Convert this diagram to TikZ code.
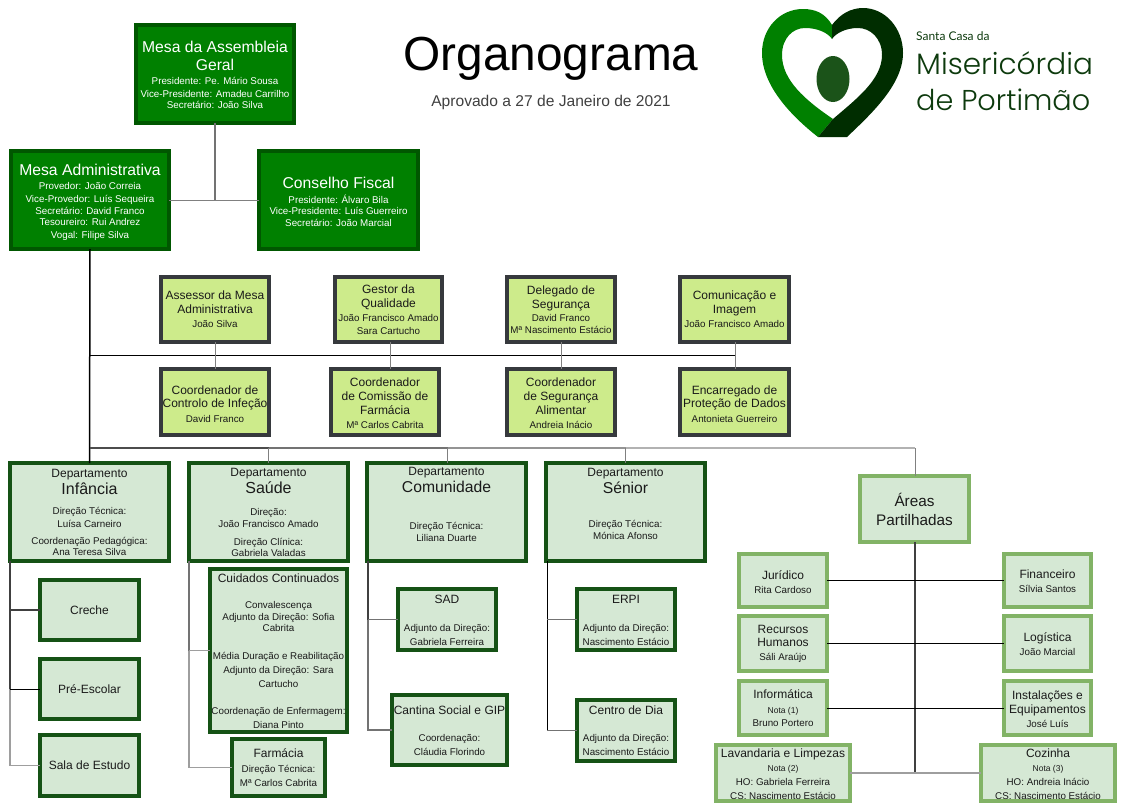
\documentclass[tikz,border=0pt]{standalone}
\usepackage{fontspec}
\setmainfont{Liberation Sans}
\newfontfamily\logofont{Poppins Light}
\newfontfamily\logosmall{Lato}
\definecolor{topfill}{HTML}{008000}
\definecolor{topline}{HTML}{005700}
\definecolor{limefill}{HTML}{CDEB8B}
\definecolor{limeline}{HTML}{36393D}
\definecolor{palefill}{HTML}{D5E8D4}
\definecolor{deptline}{HTML}{155215}
\definecolor{arealine}{HTML}{82B366}
\definecolor{heartdark}{HTML}{002D00}
\definecolor{seedgreen}{HTML}{1B5319}
\definecolor{logotext}{HTML}{0D3A0D}
\definecolor{ink}{HTML}{1A1A1A}
\newcommand\tln[2]{{\fontsize{#1}{0}\selectfont #2}}
\newcommand\labfont{\fontsize{10}{0}\selectfont\lineskiplimit=-1000pt\lineskip=0pt\relax}
\tikzset{
  cell/.style={draw,line width=4pt,inner sep=0pt,outer sep=0pt},
  topbox/.style={cell,fill=topfill,draw=topline},
  limebox/.style={cell,fill=limefill,draw=limeline},
  deptbox/.style={cell,fill=palefill,draw=deptline},
  areabox/.style={cell,fill=palefill,draw=arealine},
  lab/.style={align=center,inner sep=0pt,text=ink,font=\labfont},
  wlab/.style={lab,text=white},
  c1/.style={draw=black!55,line width=1.4pt},
  c2/.style={draw=black!50,line width=1pt},
  cblack/.style={draw=black,line width=1pt},
  cdark/.style={draw=black!75,line width=1.2pt},
  cpale/.style={draw=black!38,line width=1.3pt},
}
% name, x0, y0, x1, y1, box style, label style, dy, text
\newcommand\bx[9]{%
  \node[#6,minimum width={(#4-#2-4)*1pt},minimum height={(#5-#3-4)*1pt},
    label={[#7,name=#1-t,yshift={-(#8)*1pt}]center:{#9}}]
    (#1) at ({(#2+#4)/2},{(#3+#5)/2}) {};}
\begin{document}
\begin{tikzpicture}[x=1pt,y=-1pt]
\useasboundingbox (0,0) rectangle (1123,803);
% ---------- boxes
\bx{assembleia}{134}{23}{296}{125}{topbox}{wlab}{1}{\tln{15.7}{Mesa da Assembleia}\\[18pt]\tln{15.7}{Geral}\\[14pt]\tln{9.8}{Presidente: Pe. Mário Sousa}\\[12.5pt]\tln{9.8}{Vice-Presidente: Amadeu Carrilho}\\[11.5pt]\tln{9.8}{Secretário: João Silva}}
\bx{admin}{9}{149}{171}{251}{topbox}{wlab}{2.5}{\tln{15.7}{Mesa Administrativa}\\[14pt]\tln{9.8}{Provedor: João Correia}\\[12.5pt]\tln{9.8}{Vice-Provedor: Luís Sequeira}\\[12pt]\tln{9.8}{Secretário: David Franco}\\[11.5pt]\tln{9.8}{Tesoureiro: Rui Andrez}\\[12.5pt]\tln{9.8}{Vogal: Filipe Silva}}
\bx{fiscal}{257}{149}{420}{251}{topbox}{wlab}{1.5}{\tln{15.7}{Conselho Fiscal}\\[15pt]\tln{9.8}{Presidente: Álvaro Bila}\\[11.5pt]\tln{9.8}{Vice-Presidente: Luís Guerreiro}\\[11.5pt]\tln{9.8}{Secretário: João Marcial}}
\bx{assessor}{159}{275}{271}{344}{limebox}{lab}{0}{\tln{12}{Assessor da Mesa}\\[14pt]\tln{12}{Administrativa}\\[14pt]\tln{9.8}{João Silva}}
\bx{gestor}{333}{275}{444}{344}{limebox}{lab}{0}{\tln{12}{Gestor da}\\[14pt]\tln{12}{Qualidade}\\[14pt]\tln{9.8}{João Francisco Amado}\\[13.5pt]\tln{9.8}{Sara Cartucho}}
\bx{delegado}{505}{275}{617}{344}{limebox}{lab}{0}{\tln{12}{Delegado de}\\[14pt]\tln{12}{Segurança}\\[13pt]\tln{9.8}{David Franco}\\[12pt]\tln{9.8}{Mª Nascimento Estácio}}
\bx{comunicacao}{678}{275}{791}{344}{limebox}{lab}{0}{\tln{12}{Comunicação e}\\[14pt]\tln{12}{Imagem}\\[14pt]\tln{9.8}{João Francisco Amado}}
\bx{infecao}{159}{367}{271}{437}{limebox}{lab}{2}{\tln{12}{Coordenador de}\\[13.5pt]\tln{12}{Controlo de Infeção}\\[14.5pt]\tln{9.8}{David Franco}}
\bx{farmacia1}{329}{367}{441}{437}{limebox}{lab}{1}{\tln{12}{Coordenador}\\[14pt]\tln{12}{de Comissão de}\\[14.5pt]\tln{12}{Farmácia}\\[14pt]\tln{9.8}{Mª Carlos Cabrita}}
\bx{alimentar}{505}{367}{617}{437}{limebox}{lab}{1}{\tln{12}{Coordenador}\\[14pt]\tln{12}{de Segurança}\\[14.5pt]\tln{12}{Alimentar}\\[14pt]\tln{9.8}{Andreia Inácio}}
\bx{dados}{678}{367}{791}{437}{limebox}{lab}{2}{\tln{12}{Encarregado de}\\[13.5pt]\tln{12}{Proteção de Dados}\\[14.5pt]\tln{9.8}{Antonieta Guerreiro}}
\bx{infancia}{8}{461}{171}{563}{deptbox}{lab}{0.5}{\tln{12}{Departamento}\\[17pt]\tln{16}{Infância}\\[20.5pt]\tln{9.8}{Direção Técnica:}\\[12.5pt]\tln{9.8}{Luísa Carneiro}\\[17.5pt]\tln{9.8}{Coordenação Pedagógica:}\\[11pt]\tln{9.8}{Ana Teresa Silva}}
\bx{saude}{187}{461}{350}{563}{deptbox}{lab}{0}{\tln{12}{Departamento}\\[17.5pt]\tln{16}{Saúde}\\[22pt]\tln{9.8}{Direção:}\\[12pt]\tln{9.8}{João Francisco Amado}\\[17.5pt]\tln{9.8}{Direção Clínica:}\\[11pt]\tln{9.8}{Gabriela Valadas}}
\bx{comunidade}{365}{461}{528}{563}{deptbox}{lab}{-7.7}{\tln{12}{Departamento}\\[16.5pt]\tln{15.7}{Comunidade}\\[37.5pt]\tln{9.8}{Direção Técnica:}\\[11.5pt]\tln{9.8}{Liliana Duarte}}
\bx{senior}{544}{461}{707}{563}{deptbox}{lab}{-8.3}{\tln{12}{Departamento}\\[16.5pt]\tln{15.7}{Sénior}\\[34.5pt]\tln{9.8}{Direção Técnica:}\\[11.5pt]\tln{9.8}{Mónica Afonso}}
\bx{creche}{38}{578}{141}{642}{deptbox}{lab}{0}{\tln{12}{Creche}}
\bx{preescolar}{38}{657}{141}{721}{deptbox}{lab}{0}{\tln{12}{Pré-Escolar}}
\bx{sala}{38}{733}{141}{798}{deptbox}{lab}{0}{\tln{12}{Sala de Estudo}}
\bx{cuidados}{208}{567}{349}{734}{deptbox}{lab}{0.5}{\tln{12}{Cuidados Continuados}\\[26.5pt]\tln{9.8}{Convalescença}\\[11.5pt]\tln{9.8}{Adjunto da Direção: Sofia}\\[11.5pt]\tln{9.8}{Cabrita}\\[28pt]\tln{9.8}{Média Duração e Reabilitação}\\[14pt]\tln{9.8}{Adjunto da Direção: Sara}\\[13.5pt]\tln{9.8}{Cartucho}\\[27.5pt]\tln{9.8}{Coordenação de Enfermagem:}\\[14pt]\tln{9.8}{Diana Pinto}}
\bx{farmacia2}{230}{737}{327}{798}{deptbox}{lab}{0.5}{\tln{12}{Farmácia}\\[14.5pt]\tln{9.8}{Direção Técnica:}\\[14.5pt]\tln{9.8}{Mª Carlos Cabrita}}
\bx{sad}{396}{587}{498}{652}{deptbox}{lab}{1}{\tln{12}{SAD}\\[27.5pt]\tln{9.8}{Adjunto da Direção:}\\[14.5pt]\tln{9.8}{Gabriela Ferreira}}
\bx{cantina}{390}{693}{509}{767}{deptbox}{lab}{0.7}{\tln{12}{Cantina Social e GIP}\\[27.5pt]\tln{9.8}{Coordenação:}\\[14pt]\tln{9.8}{Cláudia Florindo}}
\bx{erpi}{575}{587}{677}{652}{deptbox}{lab}{1}{\tln{12}{ERPI}\\[27.5pt]\tln{9.8}{Adjunto da Direção:}\\[14.5pt]\tln{9.8}{Nascimento Estácio}}
\bx{centro}{575}{698}{677}{763}{deptbox}{lab}{0}{\tln{12}{Centro de Dia}\\[27.5pt]\tln{9.8}{Adjunto da Direção:}\\[14pt]\tln{9.8}{Nascimento Estácio}}
\bx{areas}{858}{474}{971}{544}{areabox}{lab}{0.5}{\tln{15.3}{Áreas}\\[19pt]\tln{15.3}{Partilhadas}}
\bx{juridico}{737}{552}{829}{609}{areabox}{lab}{1.5}{\tln{12}{Jurídico}\\[14.5pt]\tln{9.8}{Rita Cardoso}}
\bx{rh}{737}{614}{829}{673}{areabox}{lab}{0.5}{\tln{12}{Recursos}\\[13.5pt]\tln{12}{Humanos}\\[14pt]\tln{9.8}{Sáli Araújo}}
\bx{informatica}{737}{679}{829}{737}{areabox}{lab}{0}{\tln{12}{Informática}\\[15.5pt]\tln{8.5}{Nota (1)}\\[13pt]\tln{9.8}{Bruno Portero}}
\bx{lavandaria}{714}{743}{852}{803}{areabox}{lab}{1}{\tln{12}{Lavandaria e Limpezas}\\[14.5pt]\tln{8.5}{Nota (2)}\\[14pt]\tln{9.8}{HO: Gabriela Ferreira}\\[13.5pt]\tln{9.8}{CS: Nascimento Estácio}}
\bx{financeiro}{1002}{552}{1093}{609}{areabox}{lab}{0.5}{\tln{12}{Financeiro}\\[14.5pt]\tln{9.8}{Sílvia Santos}}
\bx{logistica}{1002}{614}{1093}{673}{areabox}{lab}{0.5}{\tln{12}{Logística}\\[14.5pt]\tln{9.8}{João Marcial}}
\bx{instalacoes}{1002}{679}{1093}{737}{areabox}{lab}{1}{\tln{12}{Instalações e}\\[14pt]\tln{12}{Equipamentos}\\[14.5pt]\tln{9.8}{José Luís}}
\bx{cozinha}{979}{743}{1117}{803}{areabox}{lab}{1}{\tln{12}{Cozinha}\\[14.5pt]\tln{8.5}{Nota (3)}\\[14pt]\tln{9.8}{HO: Andreia Inácio}\\[13.5pt]\tln{9.8}{CS: Nascimento Estácio}}
% ---------- junctions
\coordinate (topj) at (215,200);
\coordinate (busA) at (90,355);
\coordinate (busB) at (90,448);
\coordinate (x390) at (390,355);
\coordinate (x561) at (561.5,355);
\coordinate (x735) at (735,355);
\coordinate (t1) at (10,562);
\coordinate (t2) at (189,562);
\coordinate (t3) at (368,562);
\coordinate (t4) at (547,562);
\coordinate (x269) at (268.5,448);
\coordinate (x448) at (447.5,448);
\coordinate (x626) at (625.5,448);
\coordinate (x915) at (915,448);
% ---------- connectors
\draw[c1] (assembleia.south) -- (topj);
\draw[c2] (admin.east) -- (fiscal.west);
\draw[draw=black,line width=1.5pt] (admin.south) -- (infancia.north);
\draw[cblack] (busA) -- (x735);
\draw[c2] (assessor.south) -- (infecao.north);
\draw[c2] (x390 |- gestor.south) -- (x390 |- farmacia1.north);
\draw[c2] (x561 |- delegado.south) -- (x561 |- alimentar.north);
\draw[c2] (x735 |- comunicacao.south) -- (x735 |- dados.north);
\draw[draw=black!70,line width=1.8pt] (busB) -- (x269);
\draw[draw=black!55,line width=1.6pt] (x269) -- (x448);
\draw[draw=black!42,line width=1.4pt] (x448) -- (x626);
\draw[draw=black!30,line width=1.2pt] (x626) -- (x915);
\draw[c2] (x269) -- (x269 |- saude.north);
\draw[c2] (x448) -- (x448 |- comunidade.north);
\draw[c2] (x626) -- (x626 |- senior.north);
\draw[c2] (x915) -- (x915 |- areas.north);
% department trunks
\draw[cdark] (t1 |- infancia.south) -- (t1 |- preescolar.west);
\draw[cpale] (t1 |- preescolar.west) -- (t1 |- sala.west) -- (sala.west);
\draw[cdark] (t1 |- creche.west) -- (creche.west);
\draw[cblack] (t1 |- preescolar.west) -- (preescolar.west);
\draw[c1] (t2 |- saude.south) -- (t2 |- cuidados.west);
\draw[cpale] (t2 |- cuidados.west) -- (t2 |- farmacia2.west) -- (farmacia2.west);
\draw[cpale] (t2 |- cuidados.west) -- (cuidados.west);
\draw[cdark] (t3 |- comunidade.south) -- (t3 |- sad.west);
\draw[c1] (t3 |- sad.west) -- (t3 |- cantina.west) -- (cantina.west);
\draw[c1] (t3 |- sad.west) -- (sad.west);
\draw[cblack] (t4 |- senior.south) -- (t4 |- centro.west);
\draw[c1] (t4 |- erpi.west) -- (erpi.west);
\draw[c1] (t4 |- centro.west) -- (centro.west);
% shared areas
\draw[cdark] (x915 |- areas.south) -- (x915 |- lavandaria.east);
\draw[cblack] (juridico.east) -- (financeiro.west);
\draw[cblack] (rh.east) -- (logistica.west);
\draw[cblack] (informatica.east) -- (instalacoes.west);
\draw[cpale] (lavandaria.east) -- (cozinha.west);
% ---------- title
\node[anchor=center,inner sep=0pt,font=\fontsize{47.8}{50}\selectfont] (title) at (551,59) {Organograma};
\node[anchor=center,inner sep=0pt,text=black!75,font=\fontsize{15.6}{18}\selectfont] (subtitle) at (551,102) {Aprovado a 27 de Janeiro de 2021};
% ---------- logo
\fill[topfill] (832,25) .. controls (825,13) and (815,9) .. (803,9) .. controls (780,9) and (762,28) .. (762,53) .. controls (762,85) and (790,115) .. (818,137) -- (833,119) .. controls (805,100) and (782,80) .. (782,55) .. controls (782,38) and (793,28) .. (805,28) .. controls (818,28) and (828,33) .. (832,39) -- cycle;
\fill[heartdark] (832,25) .. controls (840,14) and (851,8) .. (863,8) .. controls (885,8) and (903,28) .. (903,53) .. controls (903,85) and (870,115) .. (847,137) -- (818,137) -- (833,119) .. controls (855,100) and (882,80) .. (882,55) .. controls (882,38) and (870,28) .. (858,28) .. controls (846,28) and (836,33) .. (832,39) -- cycle;
\fill[seedgreen] (833,79) ellipse [x radius=16.5,y radius=23];
\node[anchor=base west,inner sep=0pt,text=logotext,font=\logosmall\fontsize{12}{14}\selectfont] (logoa) at (916,40.7) {Santa Casa da};
\node[anchor=base west,inner sep=0pt,text=logotext,font=\logofont\fontsize{29.5}{32}\selectfont] (logob) at (916,74) {Misericórdia};
\node[anchor=base west,inner sep=0pt,text=logotext,font=\logofont\fontsize{28.7}{32}\selectfont] (logoc) at (916,110.6) {de Portimão};
\end{tikzpicture}
\end{document}
